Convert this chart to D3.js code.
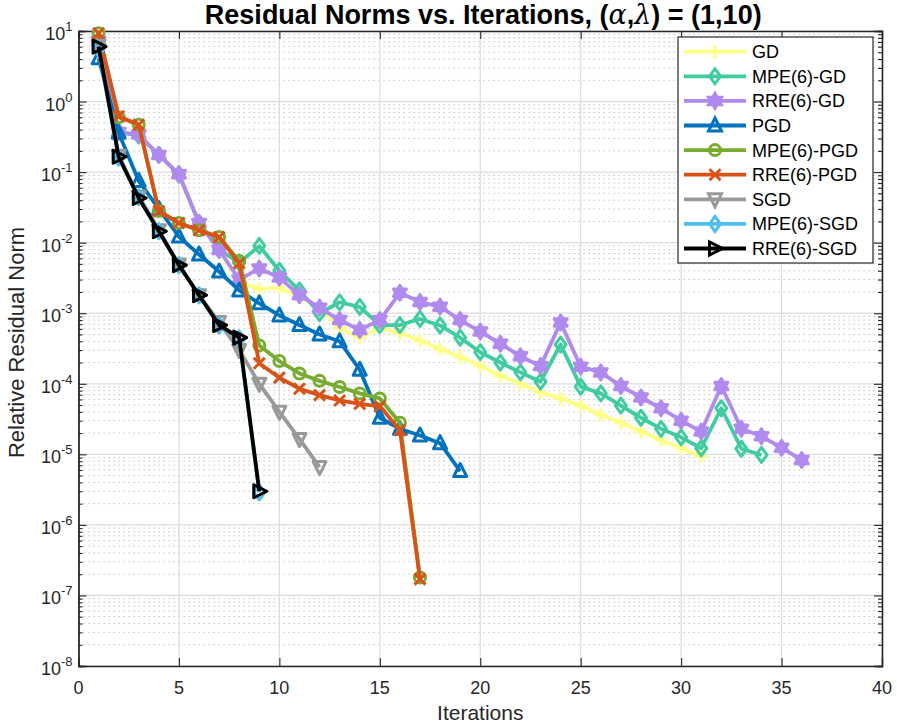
<!DOCTYPE html>
<html><head><meta charset="utf-8">
<script src="https://cdn.jsdelivr.net/npm/d3@7"></script>
<style>
body{margin:0;background:#fff;}
svg{display:block;font-family:"Liberation Sans",Arial,sans-serif;}
</style></head>
<body><svg id="chart" width="897" height="725"></svg>
<script>
const seriesNames = ["GD","MPE(6)-GD","RRE(6)-GD","PGD","MPE(6)-PGD","RRE(6)-PGD","SGD","MPE(6)-SGD","RRE(6)-SGD"];
const gd = [7.2,0.37,0.34,0.175,0.093,0.019,0.0078,0.0028,0.0022,0.0023,0.0017,0.0012,6.2e-4,4.5e-4,6.2e-4,5.2e-4,4.1e-4,3.1e-4,2.4e-4,1.8e-4,1.3e-4,1.0e-4,7.6e-5,6.2e-5,4.9e-5,3.6e-5,2.8e-5,2.1e-5,1.6e-5,1.22e-5,9.3e-6];
const mpeGd = [7.2,0.37,0.33,0.175,0.093,0.019,0.008,0.0052,0.009,0.0040,0.0021,0.0010,0.00143,0.00123,6.8e-4,6.8e-4,8.3e-4,6.7e-4,4.5e-4,2.8e-4,2.0e-4,1.45e-4,1.07e-4,3.6e-4,9.1e-5,7.3e-5,4.9e-5,3.3e-5,2.3e-5,1.74e-5,1.22e-5,4.5e-5,1.2e-5,9.8e-6];
const rreGd = [7.2,0.37,0.34,0.175,0.093,0.019,0.0079,0.003,0.0043,0.0032,0.0018,0.0012,8e-4,5.8e-4,8e-4,1.95e-3,1.44e-3,1.24e-3,8e-4,5.5e-4,3.7e-4,2.46e-4,1.78e-4,7.4e-4,1.75e-4,1.45e-4,9.3e-5,6.4e-5,4.5e-5,3.0e-5,2.1e-5,9.3e-5,2.3e-5,1.8e-5,1.24e-5,8.3e-6];
const pgd = [4.1,0.36,0.075,0.03,0.0122,0.0068,0.0039,0.0021,0.00138,9.3e-4,6.8e-4,5.0e-4,4.0e-4,1.58e-4,3.3e-5,2.3e-5,1.85e-5,1.44e-5,5.8e-6];
const mpePgd = [9.3,0.6,0.47,0.028,0.019,0.015,0.012,0.0055,3.5e-4,2.1e-4,1.4e-4,1.1e-4,9e-5,7.3e-5,6.2e-5,2.8e-5,1.8e-7];
const rrePgd = [9.3,0.62,0.47,0.028,0.019,0.015,0.012,0.0051,1.95e-4,1.22e-4,8.5e-5,6.9e-5,5.8e-5,5.2e-5,4.8e-5,2.2e-5,1.7e-7];
const sgd = [6.2,0.17,0.045,0.015,0.0049,0.0018,7.5e-4,3.0e-4,1.0e-4,4.0e-5,1.65e-5,6.6e-6];
const mpeSgd = [5.6,0.16,0.044,0.0145,0.0048,0.0018,6.7e-4,4.4e-4,2.9e-6];
const rreSgd = [6.0,0.165,0.043,0.0145,0.0048,0.0018,6.8e-4,4.5e-4,3.0e-6];
const xTicks = [0,5,10,15,20,25,30,35,40];
const yTickExps = [-8,-7,-6,-5,-4,-3,-2,-1,0,1];

const allValues = [gd,mpeGd,rreGd,pgd,mpePgd,rrePgd,sgd,mpeSgd,rreSgd];
const colors = ["#FFFF85","#40CCA0","#B08AEE","#0072BD","#77AC30","#D95319","#999999","#4DBEEE","#000000"];
const markers = ["plus","diamond","hexagram","triUp","circle","cross","triDown","diamond","triRight"];

const svg = d3.select("#chart");
const L=78.5, R=882, T=31, B=666;
const x = d3.scaleLinear().domain([0,40]).range([L,R]);
const y = d3.scaleLog().domain([1e-8,10]).range([B,T]);
const axisColor="#262626";

// grid
const minors=[];
for(let e=-8;e<1;e++){for(let k=2;k<=9;k++){minors.push(k*Math.pow(10,e));}}
const g = svg.append("g");
g.append("g").selectAll("line").data(minors).join("line")
 .attr("x1",L).attr("x2",R).attr("y1",d=>y(d)).attr("y2",d=>y(d))
 .attr("stroke","#b8b8b8").attr("stroke-width",1).attr("stroke-dasharray","1.3,3.7");
g.append("g").selectAll("line").data(yTickExps.map(e=>Math.pow(10,e))).join("line")
 .attr("x1",L).attr("x2",R).attr("y1",d=>y(d)).attr("y2",d=>y(d))
 .attr("stroke","#dcdcdc").attr("stroke-width",1.2);
g.append("g").selectAll("line").data(xTicks).join("line")
 .attr("x1",d=>x(d)).attr("x2",d=>x(d)).attr("y1",T).attr("y2",B)
 .attr("stroke","#dcdcdc").attr("stroke-width",1.2);

// axes
const ax = svg.append("g").attr("transform",`translate(0,${B})`)
 .call(d3.axisBottom(x).tickValues(xTicks).tickSize(-8).tickFormat(""));
const axT = svg.append("g").attr("transform",`translate(0,${T})`)
 .call(d3.axisTop(x).tickValues(xTicks).tickSize(-8).tickFormat(""));
const ay = svg.append("g").attr("transform",`translate(${L},0)`)
 .call(d3.axisLeft(y).tickValues(yTickExps.map(e=>Math.pow(10,e))).tickSize(-8).tickFormat(""));
const ayR = svg.append("g").attr("transform",`translate(${R},0)`)
 .call(d3.axisRight(y).tickValues(yTickExps.map(e=>Math.pow(10,e))).tickSize(-8).tickFormat(""));
const aym = svg.append("g").attr("transform",`translate(${L},0)`)
 .call(d3.axisLeft(y).tickValues(minors).tickSize(-4).tickFormat(""));
const aymR = svg.append("g").attr("transform",`translate(${R},0)`)
 .call(d3.axisRight(y).tickValues(minors).tickSize(-4).tickFormat(""));
[ax,axT,ay,ayR,aym,aymR].forEach(a=>{
  a.selectAll("path").attr("stroke",axisColor).attr("stroke-width",1.3);
  a.selectAll("line").attr("stroke",axisColor).attr("stroke-width",1.1);
});

// tick labels
svg.append("g").selectAll("text").data(xTicks).join("text")
 .attr("x",d=>x(d)).attr("y",B+28).attr("text-anchor","middle")
 .attr("font-size",18).attr("fill",axisColor).text(d=>d);
const yl = svg.append("g").selectAll("text").data(yTickExps).join("text")
 .attr("x",L-6).attr("y",d=>y(Math.pow(10,d))+9).attr("text-anchor","end")
 .attr("font-size",18).attr("fill",axisColor);
yl.append("tspan").text("10");
yl.append("tspan").attr("dy",-9).attr("font-size",13).text(d=>d);

// axis titles
svg.append("text").attr("x",(L+R)/2).attr("y",720).attr("text-anchor","middle")
 .attr("font-size",21).attr("fill",axisColor).text("Iterations");
svg.append("text").attr("transform",`translate(24,${(T+B)/2-6}) rotate(-90)`).attr("text-anchor","middle")
 .attr("font-size",22).attr("fill",axisColor).text("Relative Residual Norm");

// title
const title = svg.append("text").attr("x",(L+R)/2+3).attr("y",24).attr("text-anchor","middle")
 .attr("font-size",27).attr("font-weight","bold").attr("fill","#000")
 .attr("font-family","'Liberation Sans Narrow','Arial Narrow',sans-serif");
title.append("tspan").text("Residual Norms vs. Iterations, (");
title.append("tspan").attr("font-style","italic").attr("font-family","'DejaVu Serif',serif").attr("font-weight","normal").text("α");
title.append("tspan").text(",");
title.append("tspan").attr("font-style","italic").attr("font-family","'DejaVu Serif',serif").attr("font-weight","normal").text("λ");
title.append("tspan").text(") = (1,10)");

// marker paths
function markerPath(type){
  const r=6.5;
  switch(type){
    case "plus": return `M${-r},0H${r}M0,${-r}V${r}`;
    case "diamond": return `M0,${-r-1}L${r-1},0L0,${r+1}L${-r+1},0Z`;
    case "hexagram": {
      let p=""; const ro=7.5, ri=4.3;
      for(let i=0;i<12;i++){const a=-Math.PI/2+i*Math.PI/6; const rr=i%2?ri:ro; p+=(i?"L":"M")+(rr*Math.cos(a)).toFixed(2)+","+(rr*Math.sin(a)).toFixed(2);}
      return p+"Z";
    }
    case "triUp": return `M0,${-r-1}L${r},${r-1}L${-r},${r-1}Z`;
    case "triDown": return `M0,${r+1}L${r},${-r+1}L${-r},${-r+1}Z`;
    case "triRight": return `M${r+1},0L${-r+1},${-r}L${-r+1},${r}Z`;
    case "circle": return d3.symbol(d3.symbolCircle,95)();
    case "cross": {const q=5.5; return `M${-q},${-q}L${q},${q}M${-q},${q}L${q},${-q}`;}
  }
}

const line = d3.line().x((d,i)=>x(i+1)).y(d=>y(d));
const plot = svg.append("g");
allValues.forEach((vals,si)=>{
  const sg = plot.append("g");
  sg.append("path").datum(vals).attr("d",line).attr("fill","none")
    .attr("stroke",colors[si]).attr("stroke-width",3.8).attr("stroke-linejoin","round");
  sg.selectAll("path.m").data(vals).join("path").attr("class","m")
    .attr("transform",(d,i)=>`translate(${x(i+1)},${y(d)})`)
    .attr("d",markerPath(markers[si]))
    .attr("fill",markers[si]==="hexagram"?colors[si]:"none")
    .attr("stroke",colors[si]).attr("stroke-width",3).attr("stroke-linejoin","round");
});

// legend
const lg = svg.append("g");
lg.append("rect").attr("x",678).attr("y",37).attr("width",195).attr("height",226)
  .attr("fill","#fff").attr("stroke",axisColor).attr("stroke-width",1.2);
seriesNames.forEach((n,i)=>{
  const cy = 51.7 + i*24.6;
  lg.append("line").attr("x1",684).attr("x2",746).attr("y1",cy).attr("y2",cy)
    .attr("stroke",colors[i]).attr("stroke-width",3.8);
  lg.append("path").attr("transform",`translate(715,${cy})`).attr("d",markerPath(markers[i]))
    .attr("fill",markers[i]==="hexagram"?colors[i]:"none")
    .attr("stroke",colors[i]).attr("stroke-width",3);
  lg.append("text").attr("x",752).attr("y",cy+6.5).attr("font-size",18).attr("fill","#000").text(n);
});
</script></body></html>
